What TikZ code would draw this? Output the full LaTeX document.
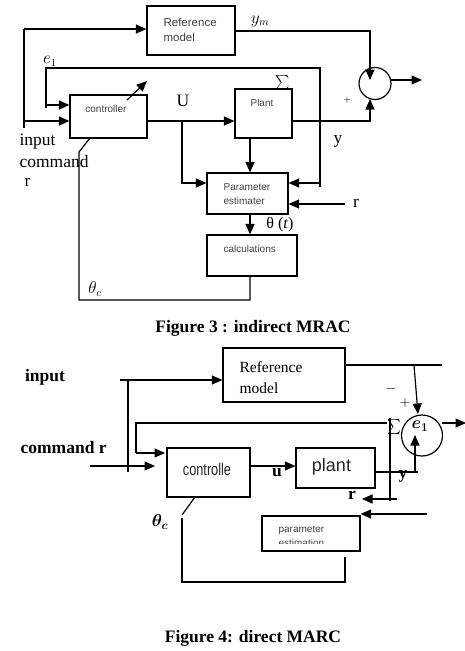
\documentclass[tikz,border=0pt]{standalone}
\usepackage{fontspec}
\usepackage{bm}
\usepackage{graphicx}
\setmainfont{Liberation Serif}
\setsansfont{Liberation Sans}
\usetikzlibrary{arrows.meta}
\begin{document}
\begin{tikzpicture}[x=1pt,y=-1pt,line width=1.2pt,
  arr/.style={-{Triangle[length=10.5pt,width=9pt]}},
  box/.style={draw,rectangle,inner sep=0pt},
  sfs/.style={font=\fontsize{10}{12}\selectfont\sffamily,text=black!75,inner sep=0pt},
  sfm/.style={font=\fontsize{11.5}{13}\selectfont\sffamily,text=black!75,inner sep=0pt},
  lab/.style={font=\fontsize{17.5}{20}\selectfont,inner sep=0pt},
  blab/.style={font=\fontsize{17.5}{20}\selectfont\bfseries,inner sep=0pt},
  figcap/.style={font=\fontsize{17.5}{20}\selectfont\bfseries,inner sep=0pt}]
\useasboundingbox (0,0) rectangle (465,651);

% ================= Figure 3 =================
\node[box,minimum width=88pt,minimum height=49pt] (refm3) at (191,30.5) {};
\node[box,minimum width=77pt,minimum height=43pt] (ctrl3) at (108.5,116.5) {};
\node[box,minimum width=57pt,minimum height=49pt] (plant3) at (263.5,113.5) {};
\node[box,minimum width=81pt,minimum height=41pt] (pest3) at (247.5,193.5) {};
\node[box,minimum width=90pt,minimum height=41pt] (calc3) at (252,255.5) {};
\node[draw,circle,minimum size=32pt,inner sep=0pt] (sum3) at (375,83.5) {};

\node[sfm,anchor=west] (t3a) at (163,22) {Reference};
\node[sfm,anchor=west] (t3b) at (163,37.5) {model};
\node[sfs] (t3c) at (106,109) {controller};
\node[sfs] (t3d) at (262,103) {Plant};
\node[sfs,anchor=west] (t3e) at (223,187) {Parameter};
\node[sfs,anchor=west] (t3f) at (223,201) {estimater};
\node[sfs,anchor=west] (t3g) at (223,249) {calculations};

% input
\coordinate (a3) at (24,29);
\coordinate (a3b) at (24,128);
\coordinate (in3) at (24,121);
\draw[arr] (a3) -- (a3 -| refm3.west);
\draw (a3) -- (a3b);
\draw[arr] (in3) -- (in3 -| ctrl3.west);

% ref model output to sum
\coordinate (s3t) at (370,80);
\coordinate (rm3o) at (235,31);
\draw[arr] (rm3o) -| (s3t);

% plant output to sum
\coordinate (p3o) at (292,121);
\coordinate (s3b) at (370,99);
\draw[arr] (p3o) -| (s3b);

% sum output
\coordinate (s3o) at (391,80);
\coordinate (o3) at (422,80);
\draw[arr] (s3o) -- (o3);

% e1 feedback
\coordinate (e3a) at (320,187);
\coordinate (e3b) at (320,68);
\coordinate (e3c) at (46,68);
\coordinate (e3d) at (46,108);
\coordinate (e3e) at (46,105);
\coordinate (e3f) at (320,183);
\draw (e3a) -- (e3b) -- (e3c) -- (e3d);
\draw[arr] (e3e) -- (e3e -| ctrl3.west);
\draw[arr] (e3f) -- (e3f -| pest3.east);

% adjust arrow on controller
\coordinate (ad3a) at (127,100);
\coordinate (ad3b) at (147,81);
\draw[arr] (ad3a) -- (ad3b);

% U line
\coordinate (u3) at (147,121);
\coordinate (u3b) at (182,121);
\coordinate (u3c) at (182,183);
\draw[arr] (u3) -- (u3 -| plant3.west);
\draw[arr] (u3b) -- (u3c) -- (u3c -| pest3.west);

% plant to estimator
\coordinate (pl3b) at (250,138);
\draw[arr] (pl3b) -- (pl3b |- pest3.north);
% estimator to calculations
\coordinate (pe3b) at (250,214);
\draw[arr] (pe3b) -- (pe3b |- calc3.north);

% r into estimator
\coordinate (r3) at (345,204);
\draw[arr] (r3) -- (r3 -| pest3.east);

% theta_c loop
\coordinate (c3b) at (250,276);
\coordinate (c3c) at (250,300);
\coordinate (c3d) at (79,300);
\coordinate (c3e) at (79,152);
\coordinate (c3f) at (90,138);
\draw (c3b) -- (c3c) -- (c3d) -- (c3e) -- (c3f);

% labels fig 3
\node[inner sep=0pt,font=\fontsize{16}{18}\selectfont] (l3ym) at (260,21) {$y_m$};
\node[inner sep=0pt,font=\fontsize{16}{18}\selectfont] (l3e1) at (50,61) {$e_1$};
\node[lab] (l3U) at (183,101) {U};
\node[inner sep=0pt] (l3S) at (283,83) {\scalebox{1.35}[1.45]{$\sum$}};
\node[inner sep=0pt,font=\fontsize{13}{15}\selectfont,text=black!70] (l3p) at (347,101) {+};
\node[lab] (l3y) at (338,141) {y};
\node[lab] (l3r) at (356,203) {r};
\node[inner sep=0pt,font=\fontsize{16}{18}\selectfont] (l3th) at (280,225) {θ (\textit{t})};
\node[inner sep=0pt,font=\fontsize{16}{18}\selectfont] (l3thc) at (95,289) {$\theta_c$};
\node[lab,anchor=west] (l3in) at (19,142) {input};
\node[lab,anchor=west] (l3cm) at (19,162) {command};
\node[lab,anchor=west] (l3r2) at (24,182) {r};

\node[figcap] (cap3) at (253,328) {Figure 3 : indirect MRAC};

% ================= Figure 4 =================
\node[box,minimum width=122pt,minimum height=54pt] (refm4) at (284,375) {};
\node[box,minimum width=83pt,minimum height=49pt] (ctrl4) at (208.5,472.5) {};
\node[box,minimum width=79pt,minimum height=40pt] (plant4) at (335.5,468) {};
\node[box,minimum width=98pt,minimum height=35pt] (pest4) at (311,533.5) {};
\node[draw,circle,minimum size=41pt,inner sep=0pt] (sum4) at (422,435.5) {};

\node[inner sep=0pt,anchor=west,font=\fontsize{15.5}{18}\selectfont] (t4a) at (239,367) {Reference};
\node[inner sep=0pt,anchor=west,font=\fontsize{15.5}{18}\selectfont] (t4b) at (239,388) {model};
\node[inner sep=0pt,font=\fontsize{17}{20}\selectfont\sffamily,text=black!85] (t4c) at (207,469) {\scalebox{0.75}[1]{controlle}};
\node[inner sep=0pt,font=\fontsize{18}{20}\selectfont\sffamily,text=black!85] (t4d) at (331.5,467) {plant};
\node[sfs,anchor=west] (t4e) at (278,530) {parameter};
\begin{scope}
\clip (270,520) rectangle (345,543);
\node[sfs,anchor=west] (t4f) at (278,542.5) {estimation};
\end{scope}

% input
\coordinate (a4) at (120,380);
\coordinate (a4v) at (128,380);
\coordinate (a4b) at (128,472);
\draw[arr] (a4) -- (a4 -| refm4.west);
\draw (a4v) -- (a4b);

% command r
\coordinate (c4a) at (90,466);
\coordinate (c4b) at (155,466);
\draw[arr] (c4a) -- (c4b);

% feedback
\coordinate (f4a) at (387,423);
\coordinate (f4b) at (136,423);
\coordinate (f4c) at (136,453);
\coordinate (f4d) at (165,453);
\draw (f4a) -- (f4b) -- (f4c);
\draw[arr] (f4c) -- (f4d);

% sigma vertical and r arrow
\coordinate (sv4a) at (390,418);
\coordinate (sv4b) at (390,501);
\coordinate (r4a) at (397,499);
\coordinate (r4b) at (362,499);
\draw (sv4a) -- (sv4b);
\draw[arr] (r4a) -- (r4b);

% u
\coordinate (u4) at (250,466);
\draw[arr] (u4) -- (u4 -| plant4.west);

% plant output up into sum
\coordinate (p4o) at (375,472);
\coordinate (p4c) at (418,472);
\coordinate (p4d) at (415,472);
\coordinate (p4t) at (415,435);
\draw (p4o) -- (p4c);
\draw[arr] (p4d) -- (p4t);

% ref model output
\coordinate (rm4o) at (345,365);
\coordinate (rm4e) at (442,365);
\coordinate (rm4d) at (414,365);
\coordinate (rm4t) at (418,414);
\draw (rm4o) -- (rm4e);
\draw[arr] (rm4d) -- (rm4t);

% sum output
\coordinate (s4o) at (442,423);
\coordinate (o4) at (466,423);
\draw[arr] (s4o) -- (o4);

% parameter estimation input
\coordinate (pe4a) at (427,514);
\draw[arr] (pe4a) -- (pe4a -| pest4.east);

% theta_c loop
\coordinate (th4a) at (195,497);
\coordinate (th4b) at (182,515);
\coordinate (th4c) at (182,518);
\coordinate (th4d) at (182,582);
\coordinate (th4e) at (345,582);
\coordinate (th4f) at (345,557);
\draw (th4a) -- (th4b);
\draw (th4c) -- (th4d) -- (th4e) -- (th4f);

% labels fig 4
\node[blab] (l4in) at (45,377) {input};
\node[blab,anchor=west] (l4cm) at (20,448) {command r};
\node[blab] (l4u) at (277,473) {u};
\node[blab] (l4y) at (403,476) {y};
\node[blab] (l4r) at (352,495) {r};
\node[inner sep=0pt] (l4S) at (394,427) {\scalebox{1.3}[1.5]{$\sum$}};
\node[inner sep=0pt,font=\fontsize{15}{18}\selectfont] (l4m) at (391,389) {$-$};
\node[inner sep=0pt,font=\fontsize{15}{18}\selectfont] (l4p) at (405,403) {$+$};
\node[inner sep=0pt,font=\fontsize{17}{20}\selectfont] (l4e1) at (420,426) {$\bm{e_1}$};
\node[inner sep=0pt,font=\fontsize{17}{20}\selectfont] (l4thc) at (160,522) {$\bm{\theta_c}$};

\node[figcap] (cap4) at (253,638) {Figure 4: direct MARC};
\end{tikzpicture}
\end{document}
